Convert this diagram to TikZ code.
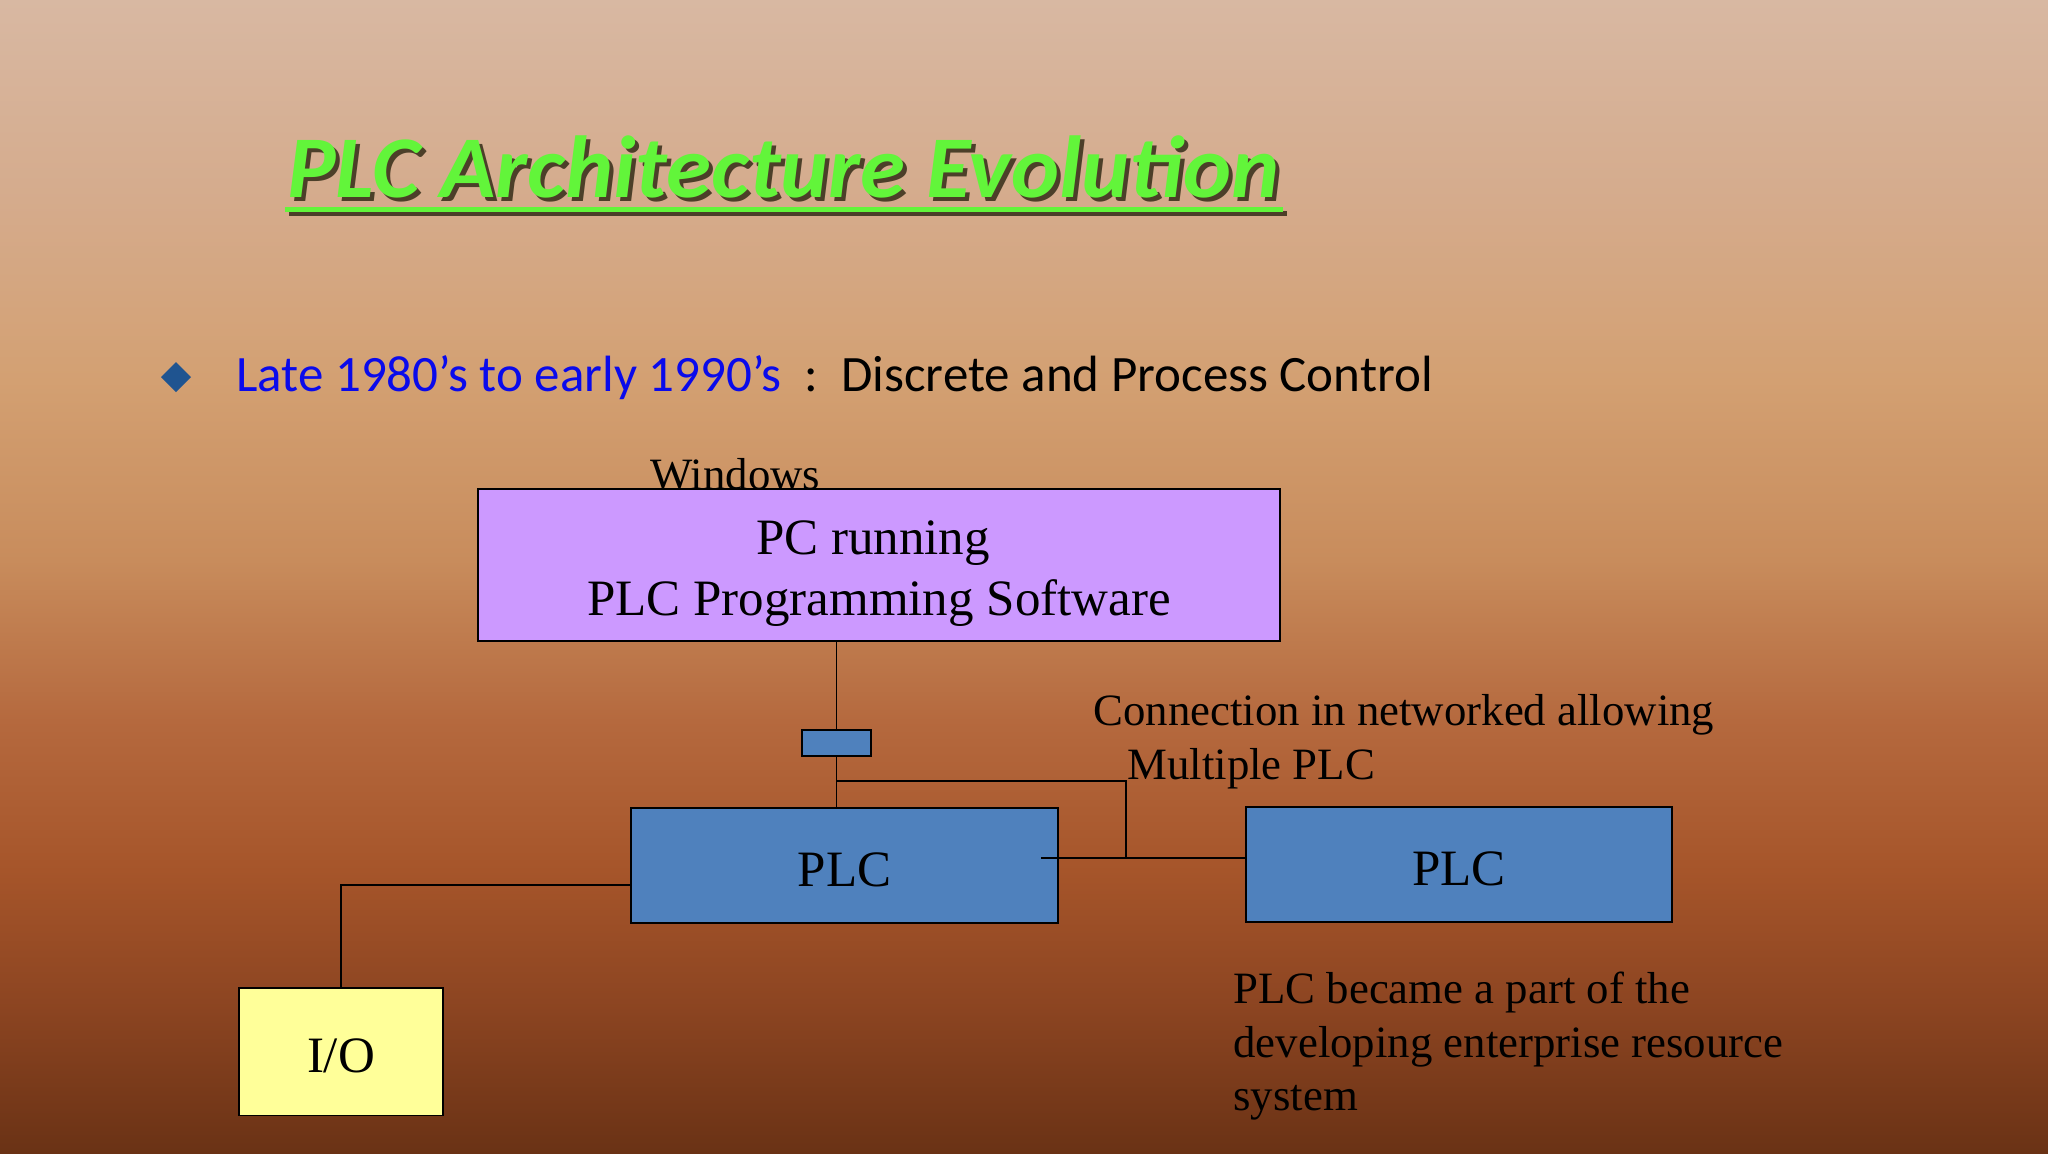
\documentclass[tikz,border=0pt]{standalone}
\usepackage{fontspec}
\setmainfont{Liberation Serif}
\newfontfamily\calib{Carlito}
\definecolor{bg0}{HTML}{D8B8A2}
\definecolor{bg1}{HTML}{D5AB8C}
\definecolor{bg2}{HTML}{D3A072}
\definecolor{bg3}{HTML}{C88C5C}
\definecolor{bg4}{HTML}{B5693E}
\definecolor{bg5}{HTML}{A6552A}
\definecolor{bg6}{HTML}{8B4421}
\definecolor{bg7}{HTML}{6A3215}
\definecolor{pcfill}{HTML}{CC99FF}
\definecolor{plcfill}{HTML}{4F81BD}
\definecolor{iofill}{HTML}{FFFF99}
\definecolor{titlegreen}{HTML}{62F53A}
\definecolor{shadowc}{HTML}{2A2410}
\definecolor{bulletblue}{HTML}{0A0AEB}
\definecolor{diamondblue}{HTML}{1F5490}
\newcommand{\lowtext}[1]{\raisebox{-2pt}[\height][\depth]{#1}}
\begin{document}
\begin{tikzpicture}[x=0.5pt,y=-0.5pt,
  txt/.style={inner sep=0pt, anchor=base west},
  bigtimes/.style={font=\fontsize{25.5}{30.5}\selectfont},
  smalltimes/.style={font=\fontsize{22.4}{26.7}\selectfont},
  calibtext/.style={font=\calib\fontsize{25.5}{30}\selectfont},
  box/.style={draw=black, line width=0.8pt, inner sep=0pt},
  wire/.style={draw=black, line width=0.8pt}]
\useasboundingbox (0,0) rectangle (2048,1153);
% background gradient
\foreach \ya/\yb/\ca/\cb in {0/200/bg0/bg1, 200/380/bg1/bg2, 380/560/bg2/bg3, 560/720/bg3/bg4, 720/870/bg4/bg5, 870/1010/bg5/bg6, 1010/1153/bg6/bg7}{
  \shade[top color=\ca, bottom color=\cb] (0,\ya) rectangle (2048,\yb+1);
}
% title
\node[txt, text=shadowc, opacity=0.8] (titlesh) at (291,201)
  {\resizebox{496pt}{\height}{\calib\bfseries\itshape\fontsize{44}{50}\selectfont PLC Architecture Evolution}};
\node[txt, text=titlegreen] (title) at (287,197)
  {\resizebox{496pt}{\height}{\calib\bfseries\itshape\fontsize{44}{50}\selectfont PLC Architecture Evolution}};
\draw[shadowc, opacity=0.8, line width=2.5pt] (289,213) -- (1287,213);
\draw[titlegreen, line width=2.5pt] (285,209) -- (1283,209);
% bullet line
\fill[diamondblue] (176,362) -- (191,377) -- (176,392) -- (161,377) -- cycle;
\node[txt, calibtext, text=bulletblue] (late) at (236,391) {Late 1980’s to early 1990’s};
\node[inner sep=0pt, anchor=base, calibtext] (colon) at (811,391) {:};
\node[txt, calibtext] (disc) at (841,391) {Discrete and Process Control};
% boxes
\node[box, fill=pcfill, minimum width=401pt, minimum height=76.25pt] (pc) at (879,565) {};
\node[box, fill=plcfill, line width=1.3pt, minimum width=34.5pt, minimum height=13pt] (sm) at (836.5,743) {};
\node[box, fill=plcfill, minimum width=213.5pt, minimum height=57.5pt, bigtimes] (plcA) at (844.5,865.5) {\lowtext{PLC}};
\node[box, fill=plcfill, minimum width=213pt, minimum height=57.5pt, bigtimes] (plcB) at (1459,864.5) {\lowtext{PLC}};
\node[box, fill=iofill, minimum width=102.25pt, minimum height=63.75pt, bigtimes] (io) at (341,1051.75) {\lowtext{I/O}};
% texts in / near PC box
\node[inner sep=0pt, anchor=base, bigtimes] (pc1) at (873,554) {PC running};
\node[inner sep=0pt, anchor=base, bigtimes] (pc2) at (879,615) {PLC Programming Software};
\node[txt, smalltimes] (win) at (650,489) {Windows};
% connectors
\coordinate (b1) at (836.5,781);
\coordinate (b2) at (1126,858);
\coordinate (lk) at (1041,858);
\coordinate (iob) at (341,885);
\draw[wire] (pc.south -| sm.north) -- (sm.north);
\draw[wire] (sm.south) -- (sm.south |- plcA.north);
\draw[wire] (b1) -| (b2);
\draw[wire] (lk) -- (lk -| plcB.west);
\draw[wire] (plcA.west |- iob) -| (io.north);
% annotations
\node[txt, smalltimes] (conn1) at (1093,725) {Connection in networked allowing};
\node[txt, smalltimes] (conn2) at (1127,779) {Multiple PLC};
\node[txt, smalltimes] (erp1) at (1233,1003) {PLC became a part of the};
\node[txt, smalltimes] (erp2) at (1233,1057) {developing enterprise resource};
\node[txt, smalltimes] (erp3) at (1233,1110) {system};
\end{tikzpicture}
\end{document}
